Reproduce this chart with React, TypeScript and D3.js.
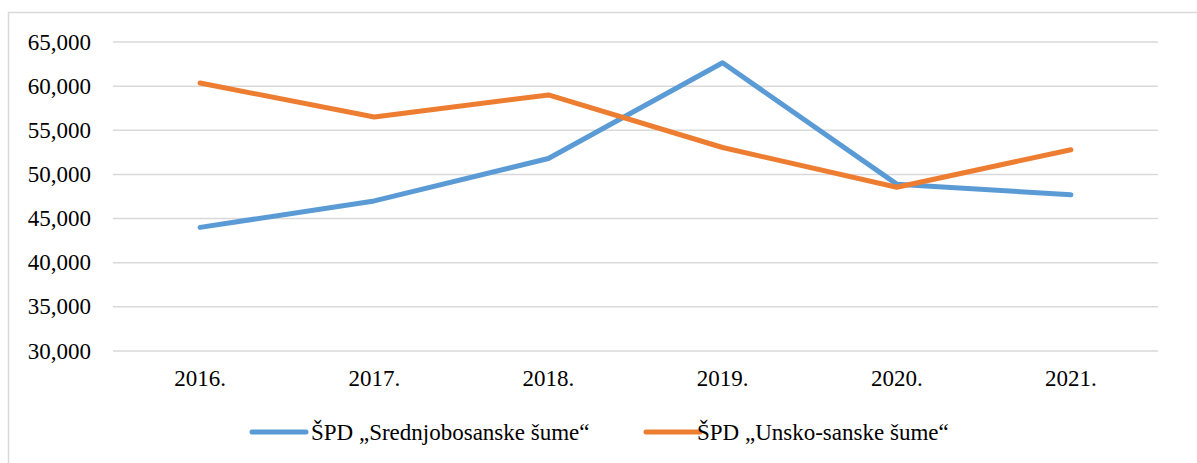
import React from "react";
import * as d3 from "d3";

const years = ["2016.", "2017.", "2018.", "2019.", "2020.", "2021."];
const srednjobosanske = [44000, 47000, 51800, 62650, 48900, 47700];
const unskoSanske = [60350, 56500, 59000, 53050, 48550, 52800];
const yTicks = [30000, 35000, 40000, 45000, 50000, 55000, 60000, 65000];
const seriesNames = ["ŠPD „Srednjobosanske šume“", "ŠPD „Unsko-sanske šume“"];
const colors = ["#5B9BD5", "#ED7D31"];

const W = 1197;
const H = 463;
const FONT = "\"Times New Roman\", Tinos, \"Liberation Serif\", \"DejaVu Serif\", serif";

export default function App() {
  const left = 113;
  const right = 1158;
  const top = 42;
  const bottom = 351;

  const x = d3.scaleBand<string>().domain(years).range([left, right]).padding(0);
  const y = d3.scaleLinear().domain([30000, 65000]).range([bottom, top]);
  const cx = (d: string) => (x(d) as number) + x.bandwidth() / 2;

  const line = d3
    .line<number>()
    .x((_, i) => cx(years[i]))
    .y((v) => y(v));

  const series = [srednjobosanske, unskoSanske];
  const fmt = d3.format(",");

  const legendItems = [
    { lineX: 252, textX: 311 },
    { lineX: 646, textX: 697 },
  ];
  const legendY = 432;

  return (
    <svg
      width={W}
      height={H}
      fontFamily={FONT}
      fontSize={23}
      style={{ position: "absolute", left: 0, top: 0, background: "#fff", fontFamily: FONT }}
    >
      <rect x={8.5} y={12.5} width={W} height={H} fill="#fff" stroke="#D9D9D9" strokeWidth={1.5} />
      {yTicks.map((t) => (
        <g key={t}>
          <line x1={left} x2={right} y1={y(t)} y2={y(t)} stroke="#D9D9D9" strokeWidth={1.5} />
          <text x={91} y={y(t)} textAnchor="end" dominantBaseline="central" fill="#000">
            {fmt(t)}
          </text>
        </g>
      ))}
      {years.map((yr) => (
        <text key={yr} x={cx(yr)} y={378} textAnchor="middle" dominantBaseline="central" fill="#000">
          {yr}
        </text>
      ))}
      {series.map((s, i) => (
        <path
          key={i}
          d={line(s) as string}
          fill="none"
          stroke={colors[i]}
          strokeWidth={5}
          strokeLinecap="round"
          strokeLinejoin="round"
        />
      ))}
      {legendItems.map((it, i) => (
        <g key={i}>
          <line
            x1={it.lineX}
            x2={it.lineX + 54}
            y1={legendY}
            y2={legendY}
            stroke={colors[i]}
            strokeWidth={5}
            strokeLinecap="round"
          />
          <text x={it.textX} y={legendY} dominantBaseline="central" fill="#000">
            {seriesNames[i]}
          </text>
        </g>
      ))}
    </svg>
  );
}
